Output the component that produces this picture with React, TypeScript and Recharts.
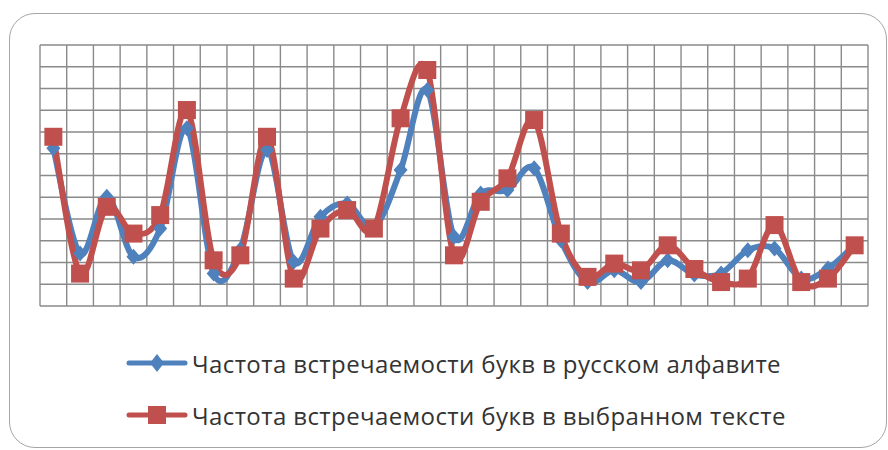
import { CartesianGrid, Legend, Line, LineChart, XAxis, YAxis } from "recharts";

// Russian letters (without ё and ъ) — 31 categories on the x axis
const letters = [
  "а", "б", "в", "г", "д", "е", "ж", "з", "и", "й", "к", "л", "м", "н", "о", "п",
  "р", "с", "т", "у", "ф", "х", "ц", "ч", "ш", "щ", "ы", "ь", "э", "ю", "я",
];

// frequency in the Russian alphabet (blue)
const alphabetFreq = [
  7.25, 2.41, 5.02, 2.26, 3.56, 8.17, 1.49, 2.6, 7.17, 2.03, 4.1, 4.71, 3.6, 6.25, 9.93, 3.18,
  5.17, 5.33, 6.33, 3.02, 1.1, 1.64, 1.1, 2.1, 1.45, 1.5, 2.56, 2.64, 1.26, 1.72, 2.8,
];

// frequency in the chosen text (red)
const textFreq = [
  7.78, 1.49, 4.56, 3.33, 4.18, 9.01, 2.1, 2.33, 7.78, 1.26, 3.56, 4.41, 3.56, 8.63, 10.85, 2.33,
  4.79, 5.87, 8.55, 3.33, 1.34, 1.95, 1.64, 2.79, 1.7, 1.1, 1.26, 3.72, 1.1, 1.26, 2.79,
];

const yTicks = [0, 1, 2, 3, 4, 5, 6, 7, 8, 9, 10, 11, 12];

const seriesNames = [
  "Частота встречаемости букв в русском алфавите",
  "Частота встречаемости букв в выбранном тексте",
];

const BLUE = "#4f81bd";
const RED = "#c0504d";

const data = letters.map((letter, i) => ({
  pos: i + 1,
  letter,
  alphabet: alphabetFreq[i],
  text: textFreq[i],
}));

// grid lines sit between the categories, like Excel's category gridlines
const xTicks = [...letters.map((_, i) => i + 0.5), letters.length + 0.5];

// Excel-style "smoothed line": a Catmull-Rom spline as a d3 curve factory
function smoothCurve(context: any) {
  let pts: number[][] = [];
  return {
    areaStart() {},
    areaEnd() {},
    lineStart() {
      pts = [];
    },
    point(x: number, y: number) {
      pts.push([+x, +y]);
    },
    lineEnd() {
      if (!pts.length) return;
      context.moveTo(pts[0][0], pts[0][1]);
      for (let i = 0; i < pts.length - 1; i++) {
        const p0 = pts[Math.max(i - 1, 0)];
        const p1 = pts[i];
        const p2 = pts[i + 1];
        const p3 = pts[Math.min(i + 2, pts.length - 1)];
        context.bezierCurveTo(
          p1[0] + (p2[0] - p0[0]) / 6,
          p1[1] + (p2[1] - p0[1]) / 6,
          p2[0] - (p3[0] - p1[0]) / 6,
          p2[1] - (p3[1] - p1[1]) / 6,
          p2[0],
          p2[1]
        );
      }
    },
  };
}

function DiamondDot(props: any) {
  const { cx, cy } = props;
  if (cx == null || cy == null) return null;
  return (
    <polygon
      points={`${cx},${cy - 8} ${cx + 7},${cy} ${cx},${cy + 8} ${cx - 7},${cy}`}
      fill={BLUE}
    />
  );
}

function SquareDot(props: any) {
  const { cx, cy } = props;
  if (cx == null || cy == null) return null;
  return <rect x={cx - 9} y={cy - 9} width={18} height={18} fill={RED} />;
}

function LegendIcon({ color, square }: { color: string; square: boolean }) {
  return (
    <svg width={62} height={22} style={{ display: "block" }}>
      <line x1={3} y1={11} x2={59} y2={11} stroke={color} strokeWidth={5} strokeLinecap="round" />
      {square ? (
        <rect x={22} y={2} width={18} height={18} fill={color} />
      ) : (
        <polygon points="31,2 38,11 31,20 24,11" fill={color} />
      )}
    </svg>
  );
}

function LegendBox() {
  const colors = [BLUE, RED];
  return (
    <div
      style={{
        fontFamily: "'Open Sans', sans-serif",
        fontSize: 24,
        letterSpacing: 0.4,
        color: "#333",
      }}
    >
      {seriesNames.map((name, i) => (
        <div key={name} style={{ display: "flex", alignItems: "center", height: 52, gap: 4 }}>
          <LegendIcon color={colors[i]} square={i === 1} />
          <span style={{ whiteSpace: "nowrap" }}>{name}</span>
        </div>
      ))}
    </div>
  );
}

export default function App() {
  return (
    <div
      style={{
        position: "absolute",
        left: 0,
        top: 0,
        width: 888,
        height: 450,
        overflow: "hidden",
        background: "#fff",
      }}
    >
      <div
        style={{
          position: "absolute",
          left: 9,
          top: 13,
          width: 876,
          height: 433,
          border: "1.5px solid #a6a6a6",
          borderRadius: 26,
        }}
      />
      <LineChart
        width={888}
        height={450}
        data={data}
        margin={{ top: 45, right: 20, bottom: 144, left: 40 }}
        style={{ position: "absolute", left: 0, top: 0 }}
      >
        <CartesianGrid stroke="#8a8a8a" strokeWidth={1.4} />
        <XAxis
          dataKey="pos"
          type="number"
          domain={[0.5, letters.length + 0.5]}
          ticks={xTicks}
          interval={0}
          hide
        />
        <YAxis domain={[0, 12]} ticks={yTicks} interval={0} hide />
        <Legend
          layout="vertical"
          verticalAlign="middle"
          align="center"
          content={() => <LegendBox />}
          wrapperStyle={{ top: 337, left: 126, width: 740 }}
        />
        <Line
          type={smoothCurve as any}
          dataKey="alphabet"
          name={seriesNames[0]}
          stroke={BLUE}
          strokeWidth={6}
          strokeLinejoin="round"
          dot={<DiamondDot />}
          activeDot={false}
          isAnimationActive={false}
        />
        <Line
          type={smoothCurve as any}
          dataKey="text"
          name={seriesNames[1]}
          stroke={RED}
          strokeWidth={6}
          strokeLinejoin="round"
          dot={<SquareDot />}
          activeDot={false}
          isAnimationActive={false}
        />
      </LineChart>
    </div>
  );
}
